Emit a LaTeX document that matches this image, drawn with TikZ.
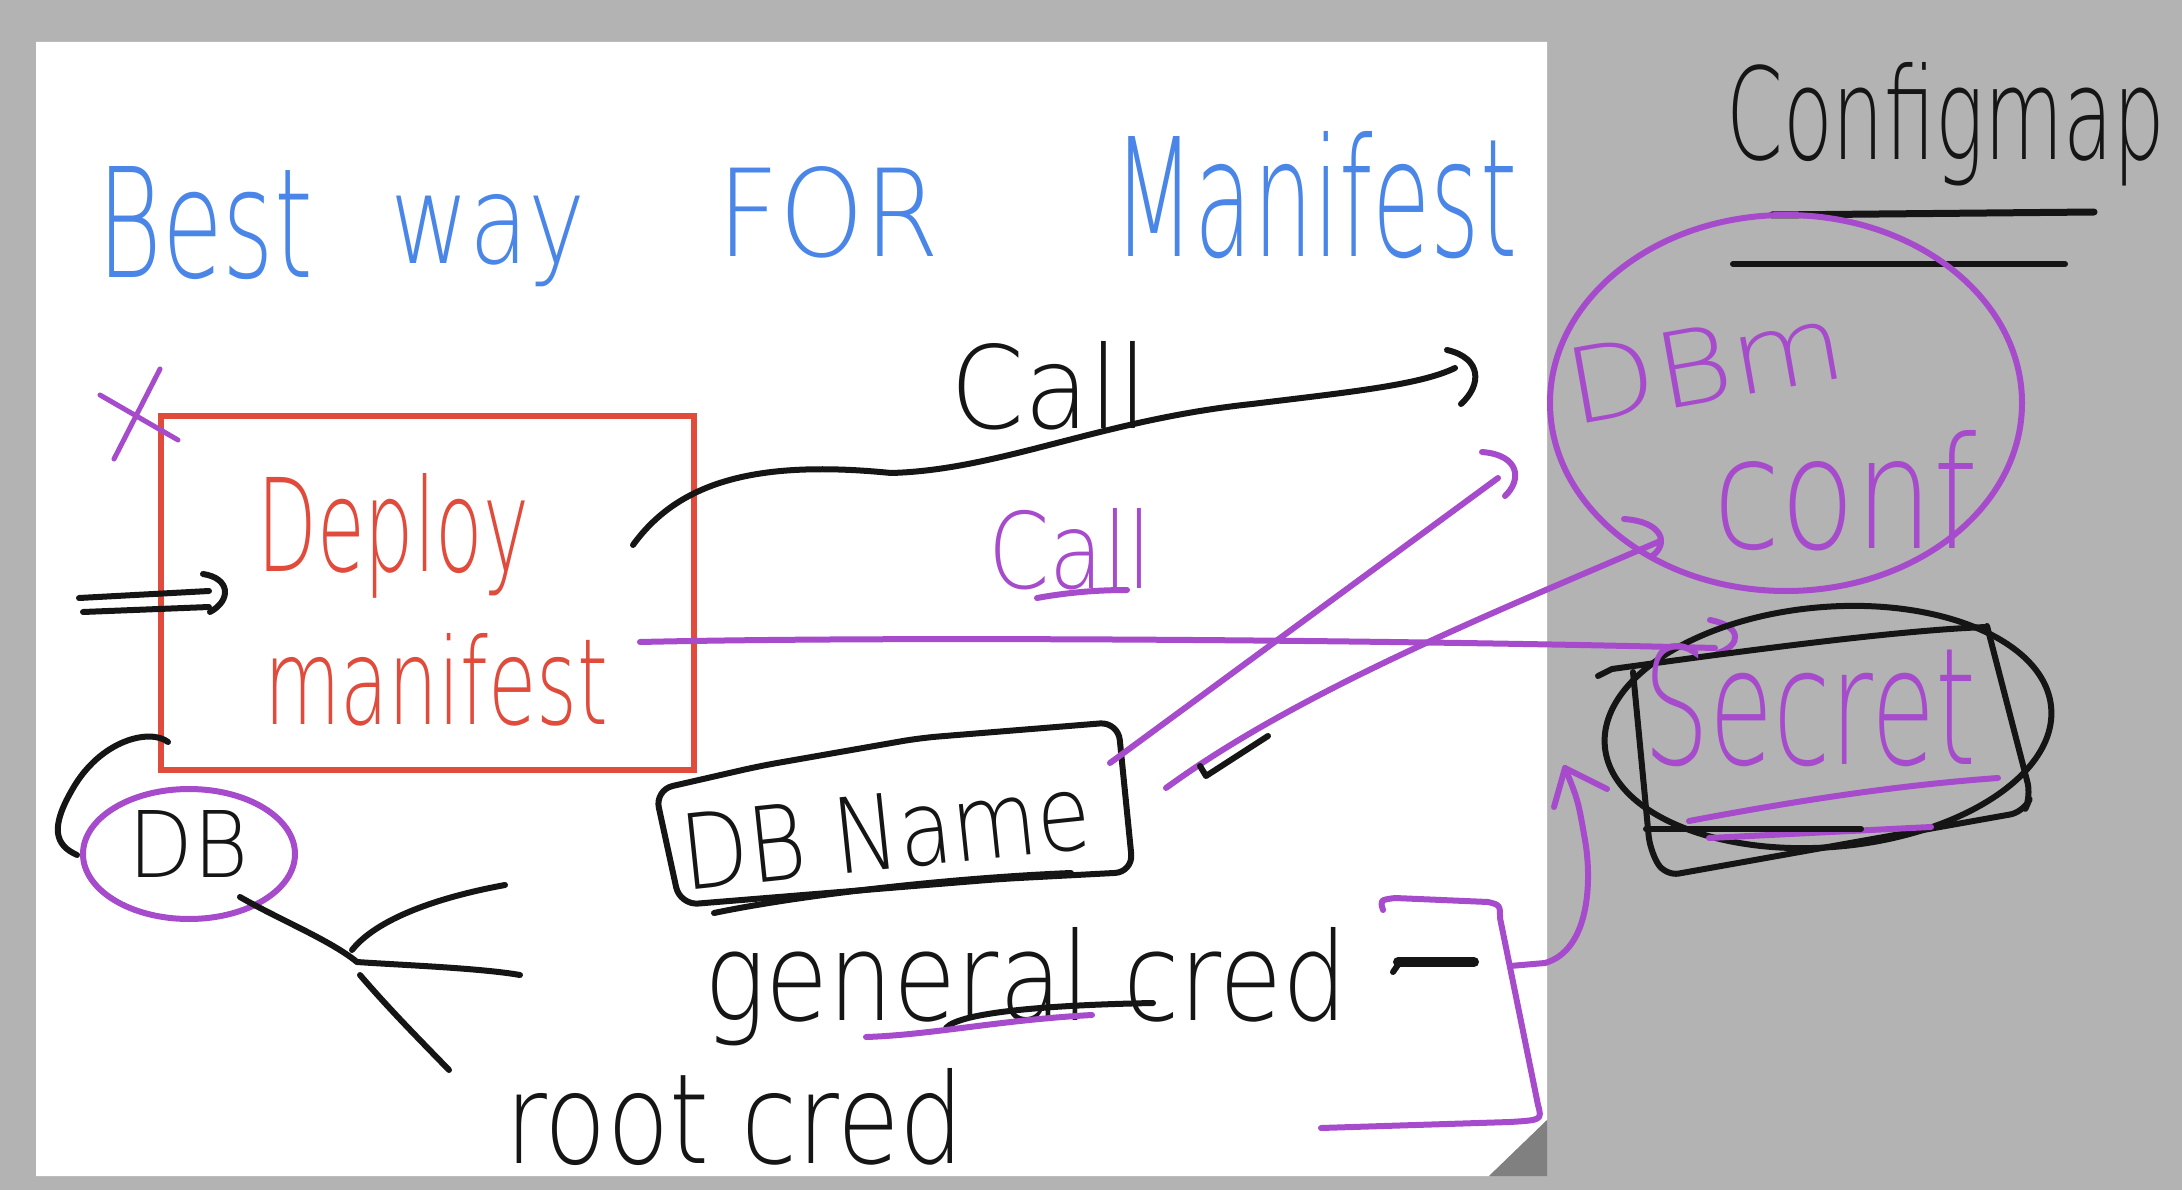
\documentclass[tikz,border=0pt]{standalone}
\usepackage{fontspec}
\setmainfont{DejaVu Sans ExtraLight}
\usepackage{graphicx}
\usetikzlibrary{shapes.geometric}
\definecolor{bg}{HTML}{B3B3B3}
\definecolor{hblue}{HTML}{4A86E8}
\definecolor{hred}{HTML}{E04B3C}
\definecolor{hpurple}{HTML}{A64BCB}
\definecolor{foldc}{HTML}{808080}
\definecolor{ink}{HTML}{151515}
\newcommand{\hw}[3]{\resizebox{#1pt}{#2pt}{#3}}
\begin{document}
\begin{tikzpicture}[x=1pt,y=-1pt,
  pen/.style={line width=6pt,line cap=round,line join=round},
  lbl/.style={inner sep=0pt,anchor=base west}]
\useasboundingbox (0,0) rectangle (2182,1190);
\fill[bg] (0,0) rectangle (2182,1190);
\fill[white] (36,42) -- (1547,42) -- (1547,1120) -- (1489,1176) -- (36,1176) -- cycle;
\fill[foldc] (1547,1120) -- (1547,1176) -- (1489,1176) -- cycle;

% title
\node[lbl,text=hblue] (t1) at (97,278) {\hw{216}{111}{Best}};
\node[lbl,text=hblue] (t2) at (390,264) {\hw{195}{69}{way}};
\node[lbl,text=hblue] (t3) at (717,257) {\hw{222}{90}{FOR}};
\node[lbl,text=hblue] (t4) at (1113,257) {\hw{404}{125}{Manifest}};

% deploy box
\draw[hred,line width=6pt] (161,416) rectangle (694,770);
\coordinate (deploy) at (427.5,593);
\node[lbl,text=hred] (dep1) at (257,571) {\hw{272}{98}{Deploy}};
\node[lbl,text=hred] (dep2) at (264,724) {\hw{344}{91}{manifest}};

% purple x
\draw[pen,hpurple,line width=5pt] (114,459) -- (160,369);
\draw[pen,hpurple,line width=5pt] (100,395) -- (178,440);

% input arrow
\coordinate (inA) at (79,598);
\coordinate (inB) at (83,612);
\draw[pen,ink] (inA) -- (209,591);
\draw[pen,ink] (inB) -- (209,607);
\draw[pen,ink] (203,574) .. controls (230,578) and (232,600) .. (210,612);

% black call curve
\coordinate (c1s) at (633,545);
\coordinate (c1e) at (1455,368);
\draw[pen,ink] (c1s) .. controls (680,480) and (760,460) .. (891,473)
   .. controls (1000,470) and (1100,420) .. (1252,404)
   .. controls (1350,392) and (1420,385) .. (c1e);
\draw[pen,ink] (1447,350) .. controls (1482,358) and (1482,385) .. (1461,404);
\node[lbl,text=ink] (call1) at (950,428) {\hw{198}{87}{Call}};

% purple call line
\coordinate (c2s) at (640,642);
\coordinate (c2e) at (1715,648);
\draw[pen,hpurple] (c2s) .. controls (900,636) and (1400,640) .. (c2e);
\draw[pen,hpurple] (1710,620) .. controls (1742,626) and (1742,645) .. (1718,653);
\node[lbl,text=hpurple] (call2) at (988,588) {\hw{164}{80}{Call}};
\draw[pen,hpurple] (1037,598) .. controls (1070,592) and (1100,590) .. (1127,590);

% DB Name box
\draw[pen,ink,rounded corners=18pt] (655,790) -- (760,766) -- (920,738) -- (1118,722) -- (1133,872) -- (1000,879) -- (680,905) -- cycle;
\draw[pen,ink] (714,913) .. controls (800,895) and (950,878) .. (1071,873);
\node[inner sep=0pt,text=ink,rotate=6] (dbname) at (886,832) {\hw{410}{76}{DB Name}};

% purple lines from DB Name to DBm conf
\coordinate (p9s) at (1110,763);
\coordinate (p9e) at (1498,478);
\draw[pen,hpurple] (p9s) -- (p9e);
\draw[pen,hpurple] (1482,452) .. controls (1520,455) and (1522,480) .. (1505,496);
\coordinate (p10s) at (1166,788);
\coordinate (p10e) at (1658,542);
\draw[pen,hpurple] (p10s) .. controls (1300,690) and (1500,610) .. (p10e);
\draw[pen,hpurple] (1624,519) .. controls (1665,522) and (1668,545) .. (1652,556);
% small tick
\draw[pen,ink] (1268,736) -- (1206,776) -- (1200,766);

% DB
\draw[pen,hpurple] (189,854) ellipse [x radius=106, y radius=65];
\coordinate (dbc) at (189,854);
\node[lbl,text=ink] (db) at (128,877) {\hw{120}{67}{DB}};
\draw[pen,ink] (168,742) .. controls (150,728) and (100,740) .. (72,790)
   .. controls (50,828) and (55,845) .. (77,855);

% fork
\coordinate (fk) at (357,962);
\draw[pen,ink] (240,897) .. controls (280,920) and (330,940) .. (fk);
\draw[pen,ink] (fk) .. controls (400,965) and (480,968) .. (520,975);
\draw[pen,ink] (352,950) .. controls (380,915) and (450,895) .. (505,885);
\draw[pen,ink] (360,975) .. controls (390,1010) and (420,1040) .. (449,1070);

% general cred / root cred
\node[lbl,text=ink] (gen) at (704,1020) {\hw{643}{93}{general cred}};
\draw[pen,ink] (946,1028) .. controls (960,1012) and (1050,1005) .. (1153,1003);
\draw[pen,hpurple] (866,1037) .. controls (930,1035) and (1000,1020) .. (1092,1015);
\draw[ink,line width=10pt,line cap=round] (1398,962) -- (1474,962);
\draw[pen,ink] (1393,972) -- (1400,962);
\node[lbl,text=ink] (root) at (505,1163) {\hw{459}{95}{root cred}};

% purple bracket and arrow to secret
\draw[pen,hpurple] (1383,910) .. controls (1380,900) .. (1395,898) -- (1488,902)
   .. controls (1500,905) .. (1500,918) -- (1538,1105)
   .. controls (1542,1120) .. (1510,1122) -- (1321,1128);
\coordinate (brk) at (1510,966);
\coordinate (secTip) at (1565,768);
\draw[pen,hpurple] (brk) -- (1545,963) .. controls (1590,950) and (1592,880) .. (1585,840)
   .. controls (1578,800) .. (secTip);
\draw[pen,hpurple] (1554,807) -- (secTip) -- (1607,789);

% Configmap
\node[lbl,text=ink] (cfg) at (1726,160) {\hw{439}{97}{Configmap}};
\draw[ink,line width=7pt,line cap=round] (1772,215) -- (2094,212);
\draw[pen,ink] (1733,264) -- (2065,264);

% DBm conf
\draw[pen,hpurple] (1786,403) ellipse [x radius=236, y radius=188];
\node[inner sep=0pt,text=hpurple,rotate=10] (dbm) at (1705,364) {\hw{280}{76}{DBm}};
\node[lbl,text=hpurple] (conf) at (1713,548) {\hw{263}{118}{conf}};

% Secret
\draw[pen,ink,rotate around={5:(1828,727)}] (1828,727) ellipse [x radius=224, y radius=120];
\draw[pen,ink,rounded corners=14pt] (1633,672) -- (1650,850) -- (1665,876) -- (2024,812) -- (2031,796) -- (1987,626);
\draw[pen,ink] (1598,676) -- (1612,669) .. controls (1750,650) and (1900,630) .. (1987,627);
\node[lbl,text=hpurple] (secret) at (1643,764) {\hw{333}{121}{Secret}};
\draw[pen,hpurple] (1689,821) .. controls (1800,800) and (1900,785) .. (1998,778);
\draw[pen,hpurple] (1709,838) -- (1931,827);
\draw[pen,ink] (1646,829) -- (1861,829);
\end{tikzpicture}
\end{document}
